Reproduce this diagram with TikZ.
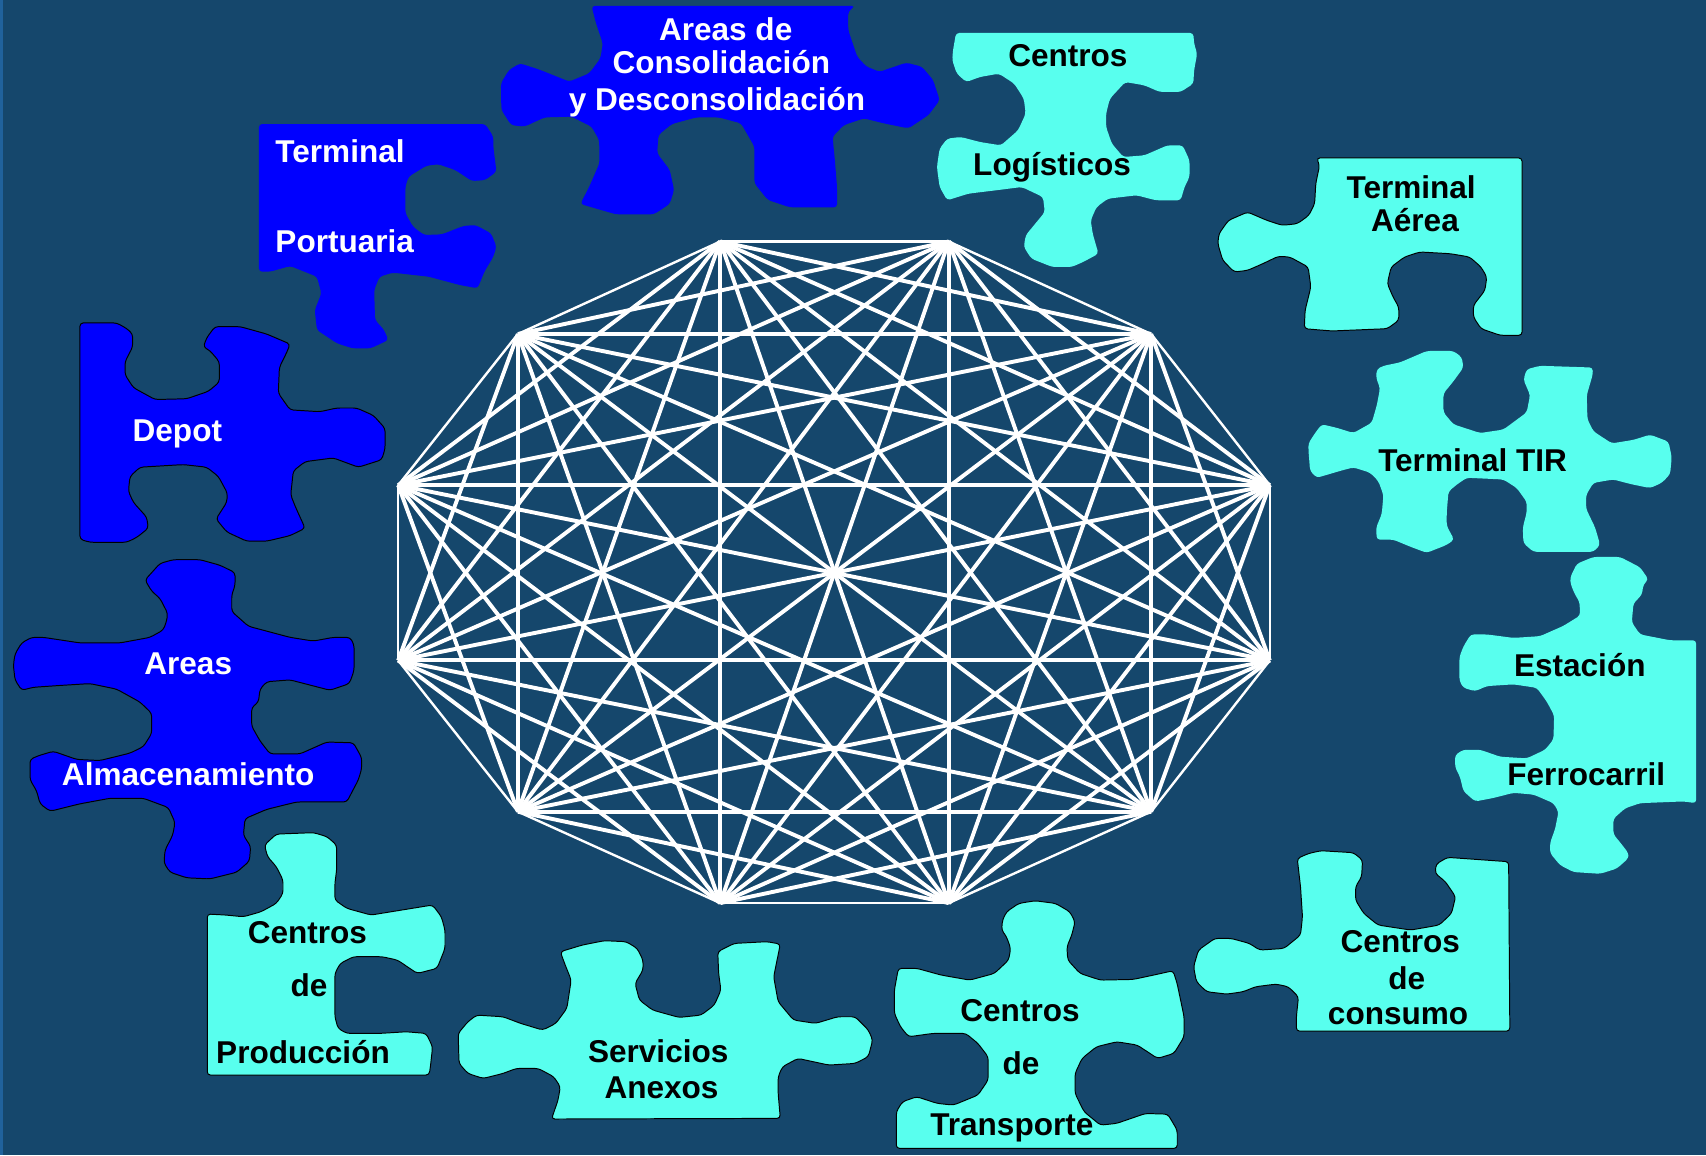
\documentclass[tikz,border=0pt]{standalone}
\usepackage{fontspec}
\setmainfont{Liberation Sans}
\definecolor{bgc}{RGB}{21,71,108}
\definecolor{stripc}{RGB}{32,98,156}
\definecolor{pblue}{RGB}{0,0,255}
\definecolor{pcyan}{RGB}{88,255,238}
\tikzset{
  piece/.style={rounded corners=3pt, line join=round},
  bluep/.style={piece, fill=pblue},
  cyanp/.style={piece, fill=pcyan},
  edged/.style={draw=black, line width=0.9pt},
  txt/.style={font=\fontsize{29}{32}\selectfont\bfseries, inner sep=0pt, anchor=base},
  wtxt/.style={txt, text=white},
  ktxt/.style={txt, text=black},
  spoke/.style={draw=white, line width=3.6pt},
  rim/.style={draw=white, line width=2.2pt},
}
\begin{document}
\begin{tikzpicture}[x=1pt,y=-1pt]
\useasboundingbox (0,0) rectangle (1568,1062);
\fill[bgc] (0,0) rectangle (1568,1062);
\fill[stripc] (0,0) rectangle (2.5,1062);

% ---------- graph vertices ----------
\coordinate (v1) at (662,222);
\coordinate (v2) at (872,222);
\coordinate (v3) at (1058,307);
\coordinate (v4) at (1167,446);
\coordinate (v5) at (1167,607);
\coordinate (v6) at (1058,746);
\coordinate (v7) at (872,830);
\coordinate (v8) at (662,830);
\coordinate (v9) at (476,746);
\coordinate (v10) at (366,607);
\coordinate (v11) at (366,446);
\coordinate (v12) at (476,307);

% rim edges
\foreach \i/\j in {1/2,2/3,3/4,4/5,5/6,6/7,7/8,8/9,9/10,10/11,11/12,12/1}
  \draw[rim] (v\i) -- (v\j);
% all diagonals
\foreach \i in {1,...,10}{
  \pgfmathtruncatemacro\s{\i+2}
  \foreach \j in {\s,...,12}{
    \ifnum\i=1 \ifnum\j=12 \else \draw[spoke] (v\i) -- (v\j); \fi
    \else \draw[spoke] (v\i) -- (v\j); \fi
  }
}

% ---------- A: Areas de Consolidacion ----------
\fill[bluep] (543.7,5.5) -- (785.8,5.5) -- (779.6,10.7) -- (779.6,27.6) -- (783.7,39.8) -- (787.8,52) -- (796,61) -- (808.3,66) -- (833,57.6) -- (847.3,61.3) -- (857.6,73.5) -- (863.7,92) -- (853.5,105.7) -- (835,118) -- (812.4,113.4) -- (794,108.8) -- (775.5,115) -- (765.2,125.6) -- (767.3,147) -- (769.3,171.6) -- (769.3,190.6) -- (726.2,190.6) -- (705.7,183.8) -- (693.4,168.5) -- (693.4,134.8) -- (681.1,113.4) -- (660.6,107.9) -- (640,107.9) -- (617.5,114) -- (605.2,124) -- (604,141) -- (615.5,156) -- (619.6,174.6) -- (615.5,187.5) -- (601,197) -- (566.2,197) -- (533.4,187.5) -- (541.6,171.6) -- (551,150) -- (550.7,128.7) -- (543.7,116.4) -- (525.2,107.2) -- (500.6,107.9) -- (482,116.4) -- (469.8,115) -- (460.8,101) -- (460.4,76.6) -- (467.8,64.3) -- (478,58.2) -- (496.5,64.3) -- (523.2,75) -- (541.6,67.4) -- (551.9,53.6) -- (554,39.8) -- (547.8,21.4) -- cycle;

% ---------- B: Terminal Portuaria ----------
\fill[bluep] (238,114) -- (446,114) -- (453.4,125.6) -- (453.4,134.8) -- (456.3,157.8) -- (446,165.5) -- (433.7,166.4) -- (418.5,156.3) -- (403,151) -- (391.9,152.3) -- (375.5,162.4) -- (372.6,171.6) -- (372.6,196) -- (379.6,208.4) -- (389.8,216) -- (406.2,215.4) -- (425.9,207.7) -- (437,206.8) -- (451.4,214.5) -- (456.3,226.7) -- (453.4,236) -- (445.2,249.7) -- (439,265) -- (422.6,262) -- (394,254.3) -- (361,250.6) -- (348.8,254.3) -- (343.9,266.6) -- (344.7,294) -- (353,303.3) -- (357,312.5) -- (340.6,320.2) -- (324.2,320.2) -- (309.8,315.6) -- (291.3,303.3) -- (289.3,285) -- (295.4,269.6) -- (291.3,254.3) -- (266.7,244.5) -- (248.3,249.7) -- (238,249.7) -- cycle;

% ---------- C: Centros Logisticos ----------
\fill[cyanp] (878.7,30.3) -- (1096.8,30.3) -- (1097.5,40.1) -- (1100.3,49.3) -- (1097.5,64.6) -- (1096.8,76.9) -- (1085.2,84.5) -- (1065.8,84.5) -- (1051.8,78.4) -- (1034.2,75.4) -- (1020.1,90.7) -- (1016.6,104.5) -- (1016.6,116.7) -- (1021.9,132) -- (1032.4,144.3) -- (1051.8,142.8) -- (1072.9,133.6) -- (1087,133.6) -- (1093.3,147.4) -- (1093.3,162.7) -- (1088.7,171.9) -- (1085.2,184.1) -- (1062.3,184.1) -- (1044.7,179.5) -- (1018.3,182.6) -- (1007.8,190.3) -- (1002.5,202.5) -- (1004.3,214.8) -- (1009.6,233.2) -- (995.5,240.8) -- (984.9,245.4) -- (967.3,245.4) -- (948,237.8) -- (941,227) -- (942.7,216.3) -- (951.5,205.6) -- (960.3,194.9) -- (958.6,181.1) -- (939.2,171.9) -- (914.6,175) -- (890,178) -- (870.6,184.1) -- (863.6,171.9) -- (861.1,153.5) -- (863.6,136.6) -- (870.6,127.4) -- (883,125.9) -- (900.5,130.5) -- (919.9,133.6) -- (935.7,119.8) -- (942.7,104.5) -- (941,90.7) -- (932.2,76.9) -- (918.1,67.7) -- (900.5,70.8) -- (888.2,75.4) -- (879.4,67.7) -- (875.2,55.4) -- (875.9,46.2) -- cycle;

% ---------- D: Terminal Aerea ----------
\filldraw[cyanp, edged] (1210,145.2) -- (1398.9,145.2) -- (1398.9,308.2) -- (1378.8,308.2) -- (1361.2,302.1) -- (1354.2,291.4) -- (1354.2,280.6) -- (1364.8,266.9) -- (1366.5,254.6) -- (1361.2,245.4) -- (1350.7,236.2) -- (1333.1,233.2) -- (1305,231.6) -- (1290.9,236.2) -- (1278.6,245.4) -- (1275.1,260.7) -- (1280.4,273) -- (1285.6,282.2) -- (1285.6,294.4) -- (1275.1,302.1) -- (1224.1,304.2) -- (1198.8,302.1) -- (1199.5,285.2) -- (1204.8,263.8) -- (1202.3,245.4) -- (1185.4,236.2) -- (1174.8,235.6) -- (1160.8,242.3) -- (1146.7,248.5) -- (1134.4,250) -- (1123.8,239.3) -- (1119.3,224) -- (1120.3,214.8) -- (1129.1,202.5) -- (1146.7,194.9) -- (1164.3,202.5) -- (1178.4,207.1) -- (1192.4,205.6) -- (1203,197.9) -- (1208.3,187.2) -- (1209.3,168.8) -- (1212.8,152) -- cycle;

% ---------- E: Depot ----------
\filldraw[bluep, edged] (73.5,296.8) -- (107.2,296.8) -- (116.4,301.9) -- (121.9,307) -- (121.9,318.9) -- (114.9,332.5) -- (114.9,344.4) -- (122.6,356.3) -- (142.5,367.2) -- (171.6,366.5) -- (191.5,359.7) -- (201.6,351.2) -- (201.6,332.5) -- (193,322.3) -- (186.9,318.9) -- (190,310.4) -- (197.6,300.2) -- (220.6,300.2) -- (245.1,307) -- (266.6,316.2) -- (263.5,324) -- (256.8,337.6) -- (255.8,361.4) -- (266.6,376.7) -- (294.1,378.4) -- (309.5,375) -- (327.8,375) -- (343.2,381.8) -- (353.9,393.7) -- (353.9,412.4) -- (350.8,422.6) -- (329.4,429.4) -- (306.4,420.9) -- (280.4,424.3) -- (269.6,432.8) -- (267.2,454.9) -- (271.2,465.1) -- (280.4,485.5) -- (266.6,492.3) -- (245.1,497.4) -- (226.7,497.4) -- (208.4,488.9) -- (198.6,477) -- (208.4,461.7) -- (209,453.2) -- (200.7,437.9) -- (190,429.4) -- (168.5,427) -- (128.7,429.4) -- (119.5,437.9) -- (118,451.5) -- (122.6,461.7) -- (134.8,475.3) -- (136.3,485.5) -- (125.6,494) -- (116.4,498.4) -- (82.7,498.4) -- (73.5,495.7) -- cycle;

% ---------- F: Areas Almacenamiento ----------
\filldraw[bluep, edged] (133.3,533.1) -- (147.1,517.8) -- (159.3,514.4) -- (183.8,514.4) -- (202.2,519.5) -- (216,526.3) -- (216,538.2) -- (213,546.7) -- (213,562) -- (228.3,575.6) -- (266.6,585.8) -- (288,589.2) -- (306.4,585.8) -- (321.7,585.8) -- (325.4,592.6) -- (325.4,616.4) -- (321.1,628.3) -- (303.3,634.4) -- (266.6,624.9) -- (245.1,626.6) -- (239,633.4) -- (237.5,645.3) -- (231.3,650.4) -- (231.3,667.4) -- (239,681) -- (248.2,692.9) -- (275.8,692.9) -- (300.3,682) -- (324.8,682.7) -- (332.4,696.3) -- (332.4,706.5) -- (329.4,716.7) -- (318.7,737.1) -- (272.7,737.1) -- (245.1,743.9) -- (225.2,752.4) -- (223.7,767.7) -- (230.4,777.9) -- (229.2,791.5) -- (217.5,801.7) -- (193,807.8) -- (171.6,806.8) -- (156.3,801.7) -- (150.7,793.2) -- (151.7,781.3) -- (158.7,767.7) -- (160.9,756) -- (154.7,742.2) -- (131.8,733.7) -- (101.1,733.7) -- (73.5,738.8) -- (46,745.6) -- (36.8,738.8) -- (33.7,727) -- (27.6,716.7) -- (27.6,698) -- (35.2,694.6) -- (49,690.5) -- (70.5,698) -- (91.9,699) -- (119.5,692.2) -- (131.8,686.2) -- (139.4,674.2) -- (139.4,655.6) -- (128.7,645.3) -- (107.2,633.4) -- (82.7,628.3) -- (55.2,630) -- (30.6,631.7) -- (19.9,634.4) -- (13.8,624.9) -- (12.3,611.3) -- (13.8,601.1) -- (19.9,590.9) -- (29.1,585.8) -- (39.8,585.8) -- (73.5,590.9) -- (110.3,590.9) -- (137.9,585.8) -- (150.1,579) -- (153.2,570.5) -- (154.1,563.7) -- (147.1,550.1) -- (139.4,543.3) -- cycle;

% ---------- G: Terminal TIR ----------
\fill[cyanp] (1265.4,339.4) -- (1271.5,336.2) -- (1286.8,333.1) -- (1311.3,322.6) -- (1335.8,322.6) -- (1343.5,328.3) -- (1345,337.8) -- (1335.8,350.5) -- (1326.7,361.6) -- (1326.7,379) -- (1335.8,390) -- (1360.4,398) -- (1381.8,394.8) -- (1403.2,379) -- (1406.3,363.1) -- (1400.2,348.9) -- (1403.2,339.4) -- (1415.5,336.2) -- (1463.9,337.8) -- (1463.9,344.2) -- (1458.4,363.1) -- (1459,385.3) -- (1464.5,396.4) -- (1481.4,407.5) -- (1501.3,404.3) -- (1516.6,399.5) -- (1533.5,405.9) -- (1536.5,420.1) -- (1535,435.9) -- (1527.3,443.8) -- (1516.6,448.6) -- (1498.2,444.8) -- (1482.9,440.7) -- (1464.5,443.8) -- (1457.8,454.9) -- (1457.8,467.6) -- (1466.1,485) -- (1470.7,500.8) -- (1464.5,507.2) -- (1409.4,507.2) -- (1400.2,499.2) -- (1399.6,485) -- (1403.2,470.8) -- (1403.2,461.3) -- (1394.1,448.6) -- (1381.8,440.7) -- (1348.1,439.1) -- (1338.9,445.4) -- (1331.3,451.8) -- (1329.7,470.8) -- (1329.7,483.4) -- (1336.5,496) -- (1329.7,500.8) -- (1311.3,508.1) -- (1296,502.4) -- (1280.7,496) -- (1265.4,496) -- (1264.8,485) -- (1270,472.3) -- (1271.5,455) -- (1266.9,442.3) -- (1259.2,434.4) -- (1243.9,429.6) -- (1231.7,432.8) -- (1221,436) -- (1210.2,439.1) -- (1204.1,432.8) -- (1202.6,413.8) -- (1202.6,407.5) -- (1208.7,398) -- (1214.8,390) -- (1228.6,393.2) -- (1243.9,398) -- (1260.8,388.5) -- (1265.4,372.6) -- (1268.4,356.8) -- (1264.8,347.3) -- cycle;

% ---------- H: Estacion Ferrocarril ----------
\fill[cyanp] (1443.1,530.9) -- (1449.2,518.2) -- (1464.5,511.9) -- (1489,511.9) -- (1507.4,521.4) -- (1515.1,532.5) -- (1510.5,537.2) -- (1509,546.7) -- (1501.3,554.6) -- (1499.8,572) -- (1507.4,583.1) -- (1535,588.5) -- (1558.9,588.5) -- (1558.9,738.2) -- (1547.2,736.6) -- (1507.4,738.2) -- (1493.7,742.9) -- (1482.9,752.5) -- (1482.9,766.7) -- (1490.6,776.2) -- (1496.7,784.1) -- (1496.7,788.8) -- (1486,798.3) -- (1470.7,803.1) -- (1446.2,801.5) -- (1433.9,795.2) -- (1424.7,784.1) -- (1424.7,774.6) -- (1429.3,761.9) -- (1432.4,746.1) -- (1427.8,738.2) -- (1409.4,730.3) -- (1391,728.7) -- (1372.6,733.4) -- (1355.8,736.6) -- (1345,727.1) -- (1342,714.4) -- (1337.4,705) -- (1337.4,693.9) -- (1345,689.1) -- (1360.4,689.1) -- (1378.8,695.5) -- (1403.3,697) -- (1420.1,689.1) -- (1427.8,679.6) -- (1428.4,657.5) -- (1421.6,644.8) -- (1412.5,632.2) -- (1391,629) -- (1366.5,630.6) -- (1355.8,635.3) -- (1345,632.2) -- (1341.4,625.8) -- (1341.4,603.7) -- (1345,594.2) -- (1351.8,583.1) -- (1366.5,583.1) -- (1391,586.3) -- (1415.5,584.7) -- (1437,575.2) -- (1452.3,565.7) -- (1451.7,553) -- (1447.7,546.7) -- (1443.7,537.2) -- cycle;

% ---------- I: Centros de Produccion ----------
\filldraw[cyanp, edged] (190.5,840.1) -- (207.5,841) -- (223.7,842.6) -- (239.9,838) -- (254,830.3) -- (260.1,821.1) -- (260.1,808.9) -- (254,796.6) -- (245.9,787.4) -- (243.1,776.7) -- (254,766.6) -- (288.4,765.3) -- (300.6,769) -- (309.4,776.7) -- (309.4,799.7) -- (307.8,811.9) -- (307.8,827.2) -- (318.8,834.9) -- (341,841) -- (369.3,836.4) -- (397.6,831.8) -- (405.7,842.6) -- (409,854.8) -- (409,871.7) -- (401.7,890) -- (383.5,894.7) -- (365.3,882.4) -- (351.1,879.3) -- (324.8,879.3) -- (312.7,885.5) -- (307.8,894.7) -- (307.8,934.5) -- (310.7,945.2) -- (318.8,949.8) -- (349.1,949.8) -- (373.4,948.3) -- (391.6,949.8) -- (397.6,962) -- (395.6,980.4) -- (394.4,988.1) -- (190.5,988.1) -- cycle;

% ---------- J: Servicios Anexos ----------
\filldraw[cyanp, edged] (515,874.7) -- (535.2,868.6) -- (555.4,864.6) -- (575.6,865.5) -- (585.7,871.7) -- (591,882.4) -- (591,891.6) -- (583.7,903.8) -- (587.7,919.2) -- (599.9,928.4) -- (624.1,935.1) -- (644.4,933) -- (656.5,923.8) -- (662.6,910) -- (660.5,894.6) -- (659.7,874.7) -- (674.7,867.1) -- (705,865.5) -- (717.2,867.7) -- (711.1,897.7) -- (715.2,920.7) -- (729.3,937.5) -- (749.6,940.6) -- (769.8,934.5) -- (786,934.5) -- (798.1,946.7) -- (802.1,955.9) -- (798.1,971.2) -- (786,977.4) -- (761.7,978.9) -- (733.4,972.8) -- (719.2,980.4) -- (715.2,989.6) -- (715.2,1005) -- (717.2,1027.9) -- (506.9,1028.5) -- (512.9,1011.1) -- (515,998.8) -- (508.9,989.6) -- (494.7,982) -- (474.5,982) -- (462.4,986.6) -- (444.1,991.2) -- (430,986.6) -- (421.9,977.4) -- (421.1,949.8) -- (430,939.1) -- (438.1,933) -- (462.4,934.5) -- (478.5,940.6) -- (498.8,946.7) -- (510.9,940.6) -- (521,926.8) -- (523.1,913) -- (525,900.8) -- (518.9,885.5) -- cycle;

% ---------- K: Centros de Transporte ----------
\filldraw[cyanp, edged] (921.4,845.6) -- (925.1,838) -- (936.4,830.3) -- (951.4,827.9) -- (970.1,830.3) -- (983.3,838) -- (988.1,847.2) -- (985.1,859.4) -- (980.6,870.2) -- (981.4,882.4) -- (992.7,894.7) -- (1011.4,900.8) -- (1041.4,900.2) -- (1060.2,896.2) -- (1078.2,892.2) -- (1081.9,903.9) -- (1088.3,934.5) -- (1088.3,952.9) -- (1079,968.2) -- (1063.9,972.8) -- (1045.2,960.5) -- (1026.4,957.5) -- (1007.7,962.1) -- (994.5,972.8) -- (988.1,986.6) -- (988.1,1005) -- (996.4,1021.8) -- (1011.4,1034.1) -- (1026.4,1032.5) -- (1052.7,1023.4) -- (1073.3,1024) -- (1082,1038.7) -- (1082,1055.5) -- (823.8,1055.5) -- (823.8,1021.8) -- (829.4,1012.6) -- (842.6,1008) -- (861.3,1014.1) -- (876.3,1015.7) -- (898.8,1006.5) -- (908.2,992.7) -- (908.2,971.3) -- (898.8,959) -- (887.6,949.8) -- (857.6,949.8) -- (835.1,952.9) -- (827.6,943.7) -- (822,931.4) -- (822,910) -- (825.7,890) -- (842.6,890) -- (865.1,896.2) -- (891.3,900.8) -- (913.9,894.7) -- (927,882.4) -- (928.9,871.7) -- (925.1,861) -- (920.6,854.8) -- cycle;

% ---------- L: Centros de consumo ----------
\filldraw[cyanp, edged] (1192.3,789) -- (1202.8,784.4) -- (1214,781.9) -- (1244,783.7) -- (1252.3,790.5) -- (1251.5,805.8) -- (1245.9,815) -- (1245.9,827.3) -- (1253.4,839.5) -- (1266.5,850.2) -- (1296.6,854.8) -- (1322.8,850.2) -- (1334.1,839.5) -- (1337.8,824.2) -- (1328.5,810.4) -- (1319.1,802.7) -- (1319.9,794.2) -- (1330.3,788) -- (1386.6,792) -- (1387.7,947.7) -- (1191.5,947.7) -- (1191.5,934.5) -- (1193.4,916.1) -- (1184,906.9) -- (1172.8,904.5) -- (1154,906.9) -- (1142.7,911.5) -- (1127.7,913.7) -- (1109,911.5) -- (1099.6,902.3) -- (1097,888.5) -- (1101.5,873.2) -- (1116.5,862.5) -- (1131.5,862.5) -- (1148.4,867.1) -- (1157.7,873.2) -- (1180.2,871.7) -- (1195.3,859.4) -- (1197.1,842.6) -- (1195.3,815) -- cycle;

% ---------- texts ----------
\node[wtxt] (ta1) at (667,37) {Areas de};
\node[wtxt] (ta2) at (663,68) {Consolidación};
\node[wtxt] (ta3) at (659,102) {y Desconsolidación};
\node[wtxt, anchor=base west] (tb1) at (253,149) {Terminal};
\node[wtxt, anchor=base west] (tb2) at (253,232) {Portuaria};
\node[wtxt] (te1) at (163,405.5) {Depot};
\node[wtxt] (tf1) at (173,620) {Areas};
\node[wtxt] (tf2) at (173,722) {Almacenamiento};
\node[ktxt] (tc1) at (981.5,61) {Centros};
\node[ktxt] (tc2) at (967,161) {Logísticos};
\node[ktxt] (td1) at (1297,182.5) {Terminal};
\node[ktxt] (td2) at (1300.5,212.5) {Aérea};
\node[ktxt] (tg1) at (1353.5,433) {Terminal TIR};
\node[ktxt] (th1) at (1452,622) {Estación};
\node[ktxt] (th2) at (1458,721.5) {Ferrocarril};
\node[ktxt] (ti1) at (282.5,867) {Centros};
\node[ktxt] (ti2) at (284,916) {de};
\node[ktxt] (ti3) at (278.5,977.5) {Producción};
\node[ktxt] (tj1) at (605,976.5) {Servicios};
\node[ktxt] (tj2) at (608,1009.5) {Anexos};
\node[ktxt] (tk1) at (937.5,939) {Centros};
\node[ktxt] (tk2) at (938.5,988) {de};
\node[ktxt] (tk3) at (930,1043.3) {Transporte};
\node[ktxt] (tl1) at (1287,875.7) {Centros};
\node[ktxt] (tl2) at (1293,909.4) {de};
\node[ktxt] (tl3) at (1285,941.2) {consumo};
\end{tikzpicture}
\end{document}
